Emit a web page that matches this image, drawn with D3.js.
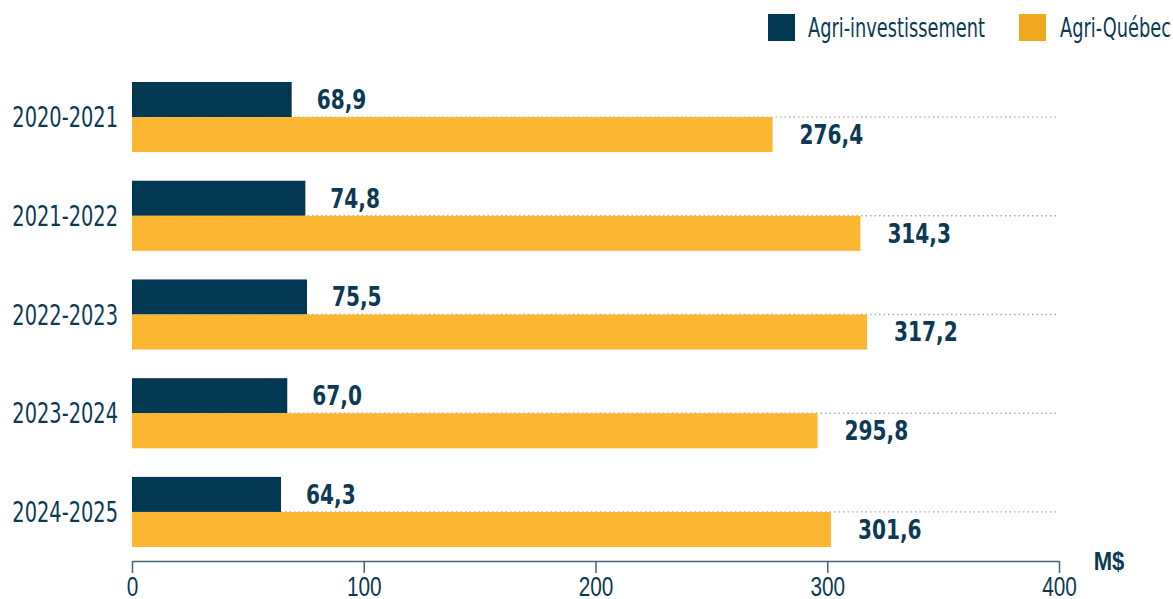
<!DOCTYPE html>
<html>
<head>
<meta charset="utf-8">
<script src="https://cdn.jsdelivr.net/npm/d3@7"></script>
<style>
  body { margin: 0; background: #fff; }
  svg { font-family: "Liberation Sans Narrow", "DejaVu Sans Condensed", sans-serif; }
</style>
</head>
<body>
<div id="chart"></div>
<script>
const width = 1173;
const height = 599;
const margin = { 'top': 82, 'right': 114, 'bottom': 38, 'left': 132 };

const years = ["2020-2021", "2021-2022", "2022-2023", "2023-2024", "2024-2025"];
const agriInvest = [68.9, 74.8, 75.5, 67.0, 64.3];
const agriQuebec = [276.4, 314.3, 317.2, 295.8, 301.6];
const seriesNames = ["Agri-investissement", "Agri-Québec"];
const xTicks = [0, 100, 200, 300, 400];

const darkBlue = "#033852";
const yellow = "#fbb731";
const textColor = "#0c3a55";

const graphWidth = width - margin.left - margin.right;
const graphHeight = 465;

// the font here is wider than the original condensed one, squeeze it
const condense = (sel, k) => {
    sel.each(function () {
        const w = this.getComputedTextLength();
        d3.select(this)
            .attr('textLength', w * k)
            .attr('lengthAdjust', 'spacingAndGlyphs');
    });
};

const svg = d3.select('#chart')
    .append('svg')
    .attr('width', width)
    .attr('height', height);

const graph = svg.append('g')
    .attr('transform', `translate(${margin.left}, ${margin.top})`);

const x = d3.scaleLinear()
    .domain([0, 400])
    .range([0, graphWidth]);

const y = d3.scaleBand()
    .domain(years)
    .range([0, graphHeight])
    .paddingInner(0.29)
    .paddingOuter(0);

const sub = d3.scaleBand()
    .domain(seriesNames)
    .range([0, y.bandwidth()]);

const fmt = v => v.toFixed(1).replace('.', ',');

const data = years.map((yr, i) => ({ year: yr, values: [agriInvest[i], agriQuebec[i]] }));

// dotted guide lines
graph.selectAll('.guide')
    .data(data)
    .enter()
    .append('line')
    .attr('x1', 0)
    .attr('x2', x(400))
    .attr('y1', d => y(d.year) + y.bandwidth() / 2)
    .attr('y2', d => y(d.year) + y.bandwidth() / 2)
    .attr('stroke', '#a9aeb6')
    .attr('stroke-width', 1.3)
    .attr('stroke-dasharray', '1.5,3');

const groups = graph.selectAll('.group')
    .data(data)
    .enter()
    .append('g')
    .attr('transform', d => `translate(0, ${y(d.year)})`);

groups.selectAll('rect')
    .data(d => d.values.map((v, j) => ({ key: seriesNames[j], value: v })))
    .enter()
    .append('rect')
    .attr('x', 0)
    .attr('y', d => sub(d.key))
    .attr('width', d => x(d.value))
    .attr('height', sub.bandwidth())
    .attr('fill', (d, j) => j == 0 ? darkBlue : yellow);

const vals = groups.selectAll('.val')
    .data(d => d.values.map((v, j) => ({ key: seriesNames[j], value: v })))
    .enter()
    .append('text')
    .attr('x', (d, j) => x(d.value) + (j == 0 ? 25 : 27))
    .attr('y', d => sub(d.key) + sub.bandwidth() / 2)
    .attr('dy', '0.36em')
    .attr('fill', textColor)
    .style('font-size', '26px')
    .style('font-weight', 'bold')
    .text(d => fmt(d.value));
condense(vals, 0.86);

// category labels
const cats = groups.append('text')
    .attr('x', -14)
    .attr('y', y.bandwidth() / 2)
    .attr('dy', '0.36em')
    .attr('text-anchor', 'end')
    .attr('fill', textColor)
    .style('font-size', '28px')
    .text(d => d.year);
condense(cats, 0.77);

// x axis
const gXAxis = graph.append('g')
    .attr('transform', `translate(0, ${graphHeight + 14})`);

const xAxis = d3.axisBottom(x)
    .tickValues(xTicks)
    .tickSize(12)
    .tickSizeOuter(0)
    .tickPadding(4);

gXAxis.call(xAxis);

gXAxis.select('.domain')
    .attr('stroke', '#4a6577')
    .attr('stroke-width', 1.5);

gXAxis.selectAll('.tick line')
    .attr('stroke', '#4a6577')
    .attr('stroke-width', 1.5);

gXAxis.selectAll('.tick text')
    .attr('fill', textColor)
    .style('font-size', '27px')
    .call(condense, 0.77);

gXAxis.append('text')
    .attr('x', graphWidth + 50)
    .attr('y', 0)
    .attr('dy', '0.36em')
    .attr('text-anchor', 'middle')
    .attr('fill', textColor)
    .style('font-size', '26px')
    .style('font-weight', 'bold')
    .text('M$')
    .call(condense, 0.85);

// legend
const legend = svg.append('g')
    .attr('transform', 'translate(768, 14)');

const legendX = [0, 251];
const legendColors = [darkBlue, "#f0a81e"];

const items = legend.selectAll('.item')
    .data(seriesNames)
    .enter()
    .append('g')
    .attr('transform', (d, i) => `translate(${legendX[i]}, 0)`);

items.append('rect')
    .attr('width', 27)
    .attr('height', 27)
    .attr('fill', (d, i) => legendColors[i]);

items.append('text')
    .attr('x', (d, i) => i == 0 ? 40 : 41)
    .attr('y', 14)
    .attr('dy', '0.36em')
    .attr('fill', textColor)
    .style('font-size', '26px')
    .text(d => d)
    .call(condense, 0.76);
</script>
</body>
</html>
